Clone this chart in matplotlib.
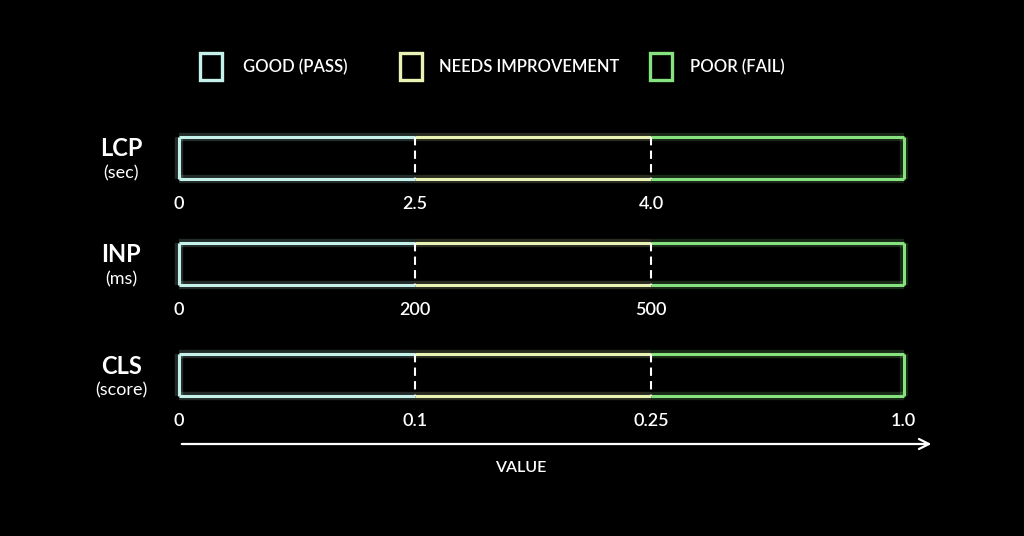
import matplotlib.pyplot as plt
from matplotlib.patches import Rectangle

plt.rcParams['font.family'] = ['Lato', 'DejaVu Sans']

# metrics, units and thresholds
metrics = ["LCP", "INP", "CLS"]
units = ["(sec)", "(ms)", "(score)"]
tick_labels = [
    ["0", "2.5", "4.0"],
    ["0", "200", "500"],
    ["0", "0.1", "0.25", "1.0"],
]
bands = ["GOOD (PASS)", "NEEDS IMPROVEMENT", "POOR (FAIL)"]
band_colors = ["#c4f1ea", "#e8f3b4", "#86e27e"]

# schematic position of each band edge on the bar
edges = [0, 1, 2, 3.07]
row_y = [158, 264, 375]
bar_h = 42
legend_x = [199, 399, 649]
legend_text_x = [243, 439, 690]

fig = plt.figure(figsize=(10.24, 5.36), dpi=100, facecolor="black")
ax = fig.add_axes([0, 0, 1, 1], facecolor="black")
ax.set_xlim(-179 / 236, (1024 - 179) / 236)
ax.set_ylim(536, 0)
ax.axis("off")

for i, m in enumerate(metrics):
    yc = row_y[i]
    top = yc - bar_h / 2
    bot = yc + bar_h / 2
    for j in range(3):
        for lw, a in [(6, 0.18), (2.2, 1)]:
            ax.hlines([top, bot], edges[j], edges[j + 1], colors=band_colors[j],
                      lw=lw, alpha=a)
    for lw, a in [(6, 0.18), (2.2, 1)]:
        ax.vlines(edges[0], top, bot, colors=band_colors[0], lw=lw, alpha=a)
        ax.vlines(edges[3], top, bot, colors=band_colors[2], lw=lw, alpha=a)
    for x in edges[1:3]:
        ax.vlines(x, top, bot, colors="white", lw=1.5, linestyles=(0, (4, 2.5)))

    ax.text(-0.245, yc - 9, m, color="white", fontsize=17, fontweight="bold",
            ha="center", va="center")
    ax.text(-0.245, yc + 15, units[i], color="white", fontsize=13,
            ha="center", va="center")
    for k, lab in enumerate(tick_labels[i]):
        ax.text(edges[k], yc + 46, lab, color="white", fontsize=13,
                fontweight="semibold", ha="center", va="center")

# value axis arrow
ax.annotate("", xy=(3.2, 444), xytext=(0, 444),
            arrowprops=dict(arrowstyle="->", color="white", lw=1.6,
                            mutation_scale=18))
ax.text(1.45, 468, "VALUE", color="white", fontsize=11.5, fontweight="semibold",
        ha="center", va="center")

# legend drawn in pixel coordinates
lax = fig.add_axes([0, 0, 1, 1], facecolor="none")
lax.set_xlim(0, 1024)
lax.set_ylim(536, 0)
lax.axis("off")
for x0, tx, lab, c in zip(legend_x, legend_text_x, bands, band_colors):
    lax.add_patch(Rectangle((x0 + 1, 53), 22, 27, facecolor="none",
                            edgecolor=c, lw=2.4))
    lax.text(tx, 67, lab, color="white", fontsize=12, fontweight="semibold",
             ha="left", va="center")

fig.savefig("out.png", dpi=100, facecolor="black")
